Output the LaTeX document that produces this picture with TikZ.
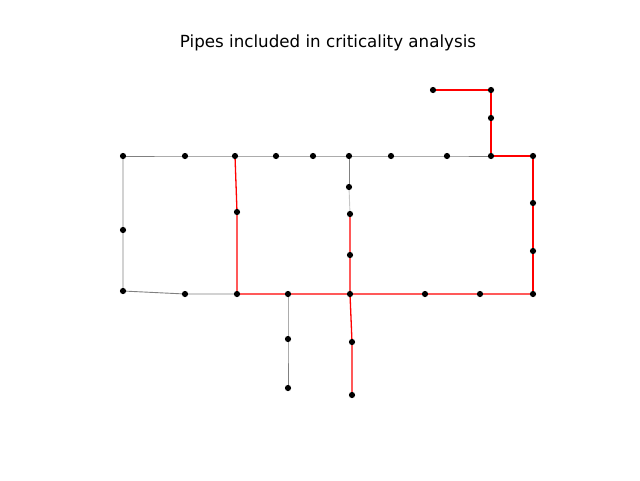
\documentclass[tikz,border=0pt]{standalone}
\usepackage{fontspec}
\setmainfont{DejaVu Sans}
\usetikzlibrary{positioning}
\tikzset{junc/.style={circle,fill=black,inner sep=0pt,minimum size=6.2pt},
	pipe/.style={draw=gray,line width=0.9pt},
	crit/.style={draw=red,line width=1.3pt},
	faint/.style={draw=gray!45,line width=0.9pt}}
\begin{document}
\begin{tikzpicture}[x=1pt,y=-1pt]
	\useasboundingbox (0,0) rectangle (640,480);
	\node[font=\fontsize{16.7}{20}\selectfont] (title) at (328,43) {Pipes included in criticality analysis};
	% junctions
	\foreach \n/\x/\y in {a1/123/156,a2/185/156,a3/235/156,a4/276/156,a5/313/156,a6/349/156,a7/391/156,a8/447/156,a9/491/156,a10/533/156,
		t1/433/90,t2/491/90,t3/491/118,
		m1/349/187,m2/350/214,m3/350/255,m4/237/212,m5/123/230,m6/533/203,m7/533/251,
		b1/123/291,b2/185/294,b3/237/294,b4/288/294,b5/350/294,b6/425/294,b7/480/294,b8/533/294,
		s1/288/339,s2/288/388,s3/352/342,s4/352/395}
		\coordinate (\n) at (\x,\y);
	% gray pipes
	\draw[pipe] (a1) -- (a2) -- (a3) -- (a4) -- (a5) -- (a6) -- (a7) -- (a8) -- (a9);
	\draw[pipe] (a1) -- (m5) -- (b1) -- (b2) -- (b3);
	\draw[pipe] (a6) -- (m1);
	\draw[faint] (m1) -- (m2);
	\draw[pipe] (b4) -- (s1) -- (s2);
	% pipes in the analysis
	\draw[crit] (t1) -- (t2) -- (t3) -- (a9) -- (a10) -- (m6) -- (m7) -- (b8);
	\draw[crit] (a3) -- (m4) -- (b3) -- (b4) -- (b5) -- (b6) -- (b7) -- (b8);
	\draw[crit] (m2) -- (m3) -- (b5) -- (s3) -- (s4);
	\foreach \n in {a1,a2,a3,a4,a5,a6,a7,a8,a9,a10,t1,t2,t3,m1,m2,m3,m4,m5,m6,m7,b1,b2,b3,b4,b5,b6,b7,b8,s1,s2,s3,s4}
		\node[junc] (\n-dot) at (\n) {};
\end{tikzpicture}
\end{document}
